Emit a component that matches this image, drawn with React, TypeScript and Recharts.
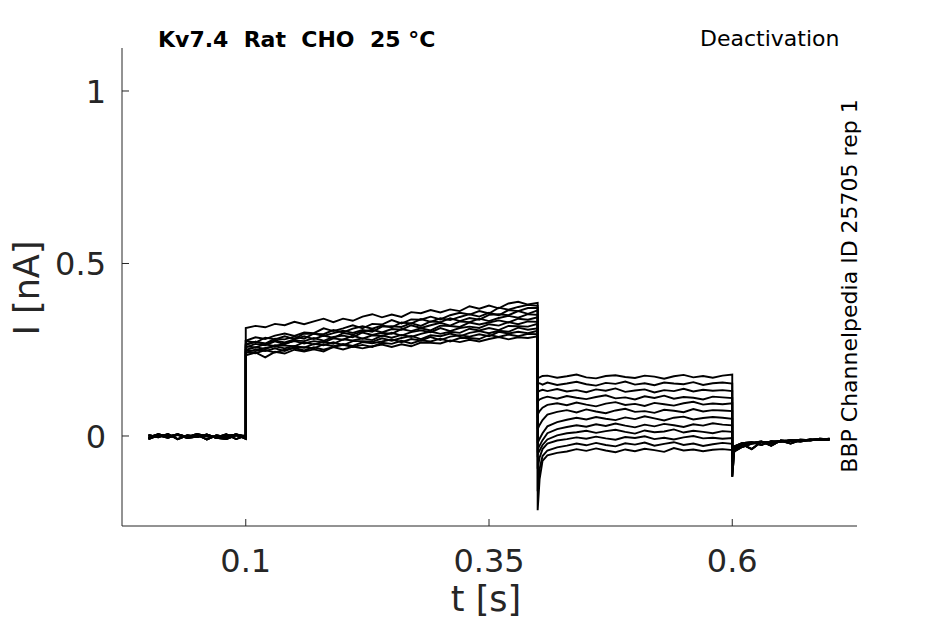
import { LineChart, Line, XAxis, YAxis } from "recharts";

// time points (s) for each part of the protocol
const PRE_T = [0, 0.01, 0.02, 0.03, 0.04, 0.05, 0.06, 0.07, 0.08, 0.09, 0.1];
const ACT_T = [
  0.1, 0.11, 0.12, 0.13, 0.14, 0.15, 0.16, 0.17, 0.18, 0.19, 0.2, 0.21, 0.22, 0.23, 0.24, 0.25,
  0.26, 0.27, 0.28, 0.29, 0.3, 0.31, 0.32, 0.33, 0.34, 0.35, 0.36, 0.37, 0.38, 0.39, 0.4,
];
const DEACT_T = [
  0.4, 0.402, 0.405, 0.41, 0.42, 0.43, 0.44, 0.45, 0.46, 0.47, 0.48, 0.49, 0.5, 0.51, 0.52, 0.53,
  0.54, 0.55, 0.56, 0.57, 0.58, 0.59, 0.6,
];
const POST_T = [0.6, 0.602, 0.61, 0.62, 0.63, 0.64, 0.65, 0.66, 0.67, 0.68, 0.69, 0.7];

// currents in pA
const PRE_PA = [
  [-6, 4, -2, 5, -4, 3, -10, 2, -4, 5, -3],
  [-9, 2, -5, 4, -3, 6, -1, -4, 5, -9, 1],
  [3, -4, 6, -9, 2, -3, 4, -6, 1, 4, -8],
  [-4, 5, -1, 3, -6, -2, 4, -5, -9, 2, 0],
];

const ACT_PA = [
  [313, 319, 315, 325, 321, 331, 324, 332, 340, 330, 340, 334, 346, 353, 344, 352, 345, 359, 356, 365, 358, 367, 362, 376, 369, 378, 370, 384, 389, 381, 386],
  [276, 286, 281, 291, 297, 290, 300, 298, 312, 304, 312, 321, 312, 325, 323, 336, 326, 338, 337, 346, 338, 350, 357, 352, 362, 355, 372, 366, 374, 380, 377],
  [275, 271, 285, 280, 289, 281, 297, 296, 295, 307, 300, 311, 318, 311, 320, 315, 329, 326, 339, 331, 341, 336, 345, 353, 346, 357, 350, 365, 362, 371, 371],
  [264, 273, 268, 282, 280, 288, 282, 297, 290, 298, 305, 299, 307, 302, 317, 318, 316, 327, 319, 332, 330, 341, 333, 342, 337, 351, 353, 350, 362, 354, 364],
  [266, 273, 267, 277, 271, 280, 289, 281, 291, 284, 298, 294, 303, 308, 300, 310, 308, 321, 313, 321, 328, 320, 332, 330, 340, 333, 342, 348, 343, 353, 351],
  [257, 267, 263, 274, 266, 277, 275, 284, 276, 287, 291, 286, 300, 293, 299, 296, 310, 304, 312, 306, 320, 319, 316, 329, 323, 329, 335, 329, 340, 337, 344],
  [260, 257, 266, 260, 268, 275, 268, 275, 271, 283, 279, 291, 282, 292, 290, 299, 291, 301, 306, 301, 313, 304, 313, 317, 313, 324, 320, 330, 324, 332, 331],
  [250, 257, 252, 263, 262, 260, 272, 265, 273, 267, 280, 277, 283, 278, 291, 285, 293, 287, 296, 303, 296, 302, 299, 311, 306, 313, 307, 319, 318, 317, 325],
  [249, 246, 255, 260, 254, 261, 256, 267, 263, 272, 263, 275, 275, 273, 283, 276, 284, 290, 281, 292, 289, 297, 289, 299, 304, 298, 305, 302, 314, 308, 312],
  [241, 251, 246, 254, 246, 257, 257, 254, 266, 260, 267, 261, 272, 269, 274, 280, 272, 281, 277, 287, 278, 288, 292, 288, 295, 289, 302, 297, 302, 298, 305],
  [243, 240, 249, 242, 250, 255, 248, 257, 250, 258, 264, 258, 264, 258, 270, 267, 276, 268, 277, 274, 282, 274, 284, 284, 281, 293, 287, 294, 289, 296, 295],
  [234, 242, 228, 244, 239, 250, 245, 251, 245, 258, 251, 259, 254, 260, 265, 258, 266, 260, 271, 270, 268, 277, 272, 279, 274, 281, 287, 280, 286, 284, 289],
];

const DEACT_PA = [
  [168, 170, 174, 175, 169, 173, 178, 170, 167, 174, 176, 171, 168, 175, 172, 166, 173, 177, 170, 174, 169, 175, 178],
  [150, 153, 149, 155, 148, 152, 157, 150, 146, 154, 151, 158, 149, 153, 147, 155, 152, 150, 156, 148, 153, 155, 152],
  [128, 131, 134, 130, 136, 129, 133, 127, 135, 131, 138, 128, 132, 135, 126, 133, 130, 137, 129, 134, 131, 133, 130],
  [100, 106, 110, 114, 108, 116, 111, 107, 113, 118, 109, 112, 106, 115, 110, 117, 108, 113, 111, 106, 114, 112, 110],
  [62, 72, 82, 90, 95, 89, 97, 91, 86, 94, 98, 90, 93, 87, 96, 92, 88, 95, 99, 91, 94, 92, 95],
  [20, 32, 46, 62, 70, 75, 68, 77, 71, 66, 74, 79, 70, 72, 67, 76, 73, 69, 78, 71, 75, 74, 72],
  [-20, -8, 8, 28, 40, 47, 53, 48, 55, 50, 46, 54, 49, 57, 51, 45, 53, 56, 48, 52, 55, 53, 50],
  [-38, -28, -12, 8, 20, 26, 31, 27, 34, 29, 36, 30, 25, 33, 28, 35, 31, 26, 34, 30, 37, 33, 31],
  [-52, -42, -26, -10, 2, 8, 11, 15, 9, 14, 18, 12, 7, 16, 11, 13, 19, 10, 15, 12, 8, 14, 12],
  [-95, -62, -38, -22, -13, -9, -4, -8, -2, -7, -11, -3, -6, -1, -9, -5, -10, -4, 0, -7, -5, -8, -6],
  [-160, -95, -58, -42, -33, -28, -22, -27, -20, -26, -30, -21, -25, -19, -28, -23, -18, -26, -22, -29, -24, -20, -23],
  [-215, -125, -72, -56, -49, -45, -38, -43, -36, -42, -47, -39, -44, -37, -41, -46, -35, -42, -39, -44, -40, -38, -41],
];

const POST_PA = [
  [-118, -45, -32, -22, -18, -20, -15, -13, -16, -11, -12, -9],
  [-65, -35, -24, -38, -17, -19, -14, -22, -12, -13, -8, -10],
  [-55, -30, -21, -18, -26, -15, -17, -12, -14, -10, -11, -8],
  [-75, -40, -27, -20, -16, -28, -13, -15, -11, -12, -9, -11],
];

const X_TICKS = [0.1, 0.35, 0.6];
const Y_TICKS = [0, 0.5, 1];

const AXIS = "#262626";
const FONT = "DejaVu Sans";

const toPoints = (ts: number[], vals: number[]) => ts.map((t, j) => ({ t, i: vals[j] / 1000 }));

const sweeps = ACT_PA.map((act, k) => [
  ...toPoints(PRE_T, PRE_PA[k % PRE_PA.length]),
  ...toPoints(ACT_T, act),
  ...toPoints(DEACT_T, DEACT_PA[k]),
  ...toPoints(POST_T, POST_PA[k % POST_PA.length]),
]);

const XTick = ({ x, y, payload }: any) => (
  <g>
    <line x1={x} x2={x} y1={y} y2={y - 7} stroke={AXIS} />
    <text x={x} y={y + 46} textAnchor="middle" fontSize={32} fill={AXIS} fontFamily={FONT}>
      {String(payload.value)}
    </text>
  </g>
);

const YTick = ({ x, y, payload }: any) => (
  <g>
    <line x1={x} x2={x + 7} y1={y} y2={y} stroke={AXIS} />
    <text x={x - 16} y={y + 12} textAnchor="end" fontSize={32} fill={AXIS} fontFamily={FONT}>
      {String(payload.value)}
    </text>
  </g>
);

export default function App() {
  return (
    <div style={{ position: "absolute", left: 0, top: 0, width: 945, height: 624, background: "#fff" }}>
      <LineChart width={945} height={624} margin={{ top: 48, right: 88, bottom: 0, left: 0 }}>
        <XAxis
          type="number"
          dataKey="t"
          domain={[-0.0272, 0.7282]}
          ticks={X_TICKS}
          interval={0}
          allowDataOverflow
          height={98}
          tickSize={0}
          tickMargin={0}
          tickLine={false}
          axisLine={{ stroke: AXIS, strokeWidth: 1 }}
          tick={<XTick />}
        />
        <YAxis
          type="number"
          domain={[-0.2609, 1.1246]}
          ticks={Y_TICKS}
          interval={0}
          allowDataOverflow
          width={122}
          tickSize={0}
          tickMargin={0}
          tickLine={false}
          axisLine={{ stroke: AXIS, strokeWidth: 1 }}
          tick={<YTick />}
        />
        {sweeps.map((pts, k) => (
          <Line
            key={k}
            data={pts}
            dataKey="i"
            type="linear"
            stroke="#000"
            strokeWidth={1.9}
            dot={false}
            activeDot={false}
            isAnimationActive={false}
          />
        ))}
      </LineChart>
      <svg width={945} height={624} style={{ position: "absolute", left: 0, top: 0, pointerEvents: "none" }}>
        <text x={158} y={47} fontSize={22} fontWeight="bold" fontFamily={FONT} fill="#000" style={{ whiteSpace: "pre" }}>
          {"Kv7.4  Rat  CHO  25 °C"}
        </text>
        <text x={700} y={46} fontSize={22} fontFamily={FONT} fill="#000">
          Deactivation
        </text>
        <text transform="translate(857,286) rotate(-90)" textAnchor="middle" fontSize={22} fontFamily={FONT} fill="#000">
          BBP Channelpedia ID 25705 rep 1
        </text>
        <text transform="translate(39,288) rotate(-90)" textAnchor="middle" fontSize={35} fontFamily={FONT} fill={AXIS}>
          I [nA]
        </text>
        <text x={486} y={611} textAnchor="middle" fontSize={35} fontFamily={FONT} fill={AXIS}>
          t [s]
        </text>
      </svg>
    </div>
  );
}
